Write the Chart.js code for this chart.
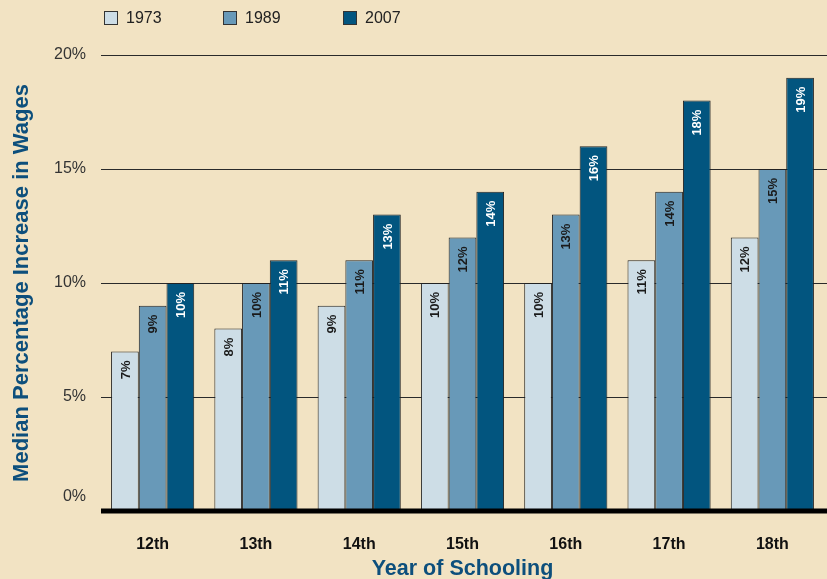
<!DOCTYPE html>
<html>
<head>
<meta charset="utf-8">
<script src="https://cdn.jsdelivr.net/npm/chart.js@4"></script>
<style>
  html, body { margin: 0; padding: 0; background: #f2e3c3; }
  #wrap { width: 827px; height: 579px; }
</style>
</head>
<body>
<div id="wrap"><canvas id="myChart" width="827" height="579"></canvas></div>
<script>
// dữ liệu
var nhan = ["12th", "13th", "14th", "15th", "16th", "17th", "18th"];
var nam = ["1973", "1989", "2007"];
var y1973 = [7, 8, 9, 10, 10, 11, 12];
var y1989 = [9, 10, 11, 12, 13, 14, 15];
var y2007 = [10, 11, 13, 14, 16, 18, 19];
var mocY = [0, 5, 10, 15, 20];

var mauNen = "#f2e3c3";
var mauCot = ["#cddde6", "#6899b8", "#02557f"];
var mauChu = ["#1a1a1a", "#1a1a1a", "#ffffff"];
var mauTieuDe = "#0d4f7c";
var font = "'Liberation Sans', Arial, Helvetica, sans-serif";

// vẽ nền, lưới, chú thích, nhãn giá trị
const veThem = {
  id: "veThem",
  beforeDraw(chart) {
    const ctx = chart.ctx;
    ctx.save();
    ctx.fillStyle = mauNen;
    ctx.fillRect(0, 0, chart.width, chart.height);
    ctx.restore();
  },
  beforeDatasetsDraw(chart) {
    const ctx = chart.ctx, y = chart.scales.y, area = chart.chartArea;
    ctx.save();
    ctx.strokeStyle = "#2a2a2a";
    ctx.lineWidth = 1;
    mocY.forEach(function (v) {
      if (v === 0) return;
      const py = Math.round(y.getPixelForValue(v)) + 0.5;
      ctx.beginPath();
      ctx.moveTo(area.left, py);
      ctx.lineTo(chart.width, py);
      ctx.stroke();
    });
    // nhãn 0% đặt cao hơn một chút
    ctx.fillStyle = "#333";
    ctx.font = "16px " + font;
    ctx.textAlign = "right";
    ctx.textBaseline = "middle";
    ctx.fillText("0%", 86, y.getPixelForValue(0) - 14);
    // chú thích
    const lx = [104, 223, 343];
    nam.forEach(function (t, i) {
      ctx.fillStyle = mauCot[i];
      ctx.fillRect(lx[i], 11, 14, 14);
      ctx.strokeStyle = "#333";
      ctx.strokeRect(lx[i] + 0.5, 11.5, 13, 13);
      ctx.fillStyle = "#222";
      ctx.textAlign = "left";
      ctx.fillText(t, lx[i] + 22, 19);
    });
    ctx.restore();
  },
  afterDatasetsDraw(chart) {
    const ctx = chart.ctx, y = chart.scales.y, area = chart.chartArea;
    ctx.save();
    // đường đáy dày
    ctx.strokeStyle = "#000";
    ctx.lineWidth = 5;
    ctx.beginPath();
    ctx.moveTo(area.left, y.getPixelForValue(0));
    ctx.lineTo(chart.width, y.getPixelForValue(0));
    ctx.stroke();
    // nhãn trong cột
    ctx.font = "bold 13px " + font;
    ctx.textAlign = "right";
    ctx.textBaseline = "middle";
    chart.data.datasets.forEach(function (ds, i) {
      const meta = chart.getDatasetMeta(i);
      meta.data.forEach(function (bar, j) {
        ctx.save();
        ctx.translate(bar.x, bar.y + 8);
        ctx.rotate(-Math.PI / 2);
        ctx.fillStyle = mauChu[i];
        ctx.fillText(ds.data[j] + "%", -1, 1);
        ctx.restore();
      });
    });
    ctx.restore();
  }
};

const bieuDo = new Chart("myChart", {
  type: "bar",
  data: {
    labels: nhan,
    datasets: [
      { label: nam[0], data: y1973, backgroundColor: mauCot[0] },
      { label: nam[1], data: y1989, backgroundColor: mauCot[1] },
      { label: nam[2], data: y2007, backgroundColor: mauCot[2] }
    ].map(function (d) {
      d.borderColor = "#222";
      d.borderWidth = 1;
      d.categoryPercentage = 0.805;
      d.barPercentage = 1.0;
      return d;
    })
  },
  options: {
    responsive: false,
    animation: false,
    events: [],
    layout: { padding: { top: 55, right: 3, left: 0, bottom: 0 } },
    plugins: { legend: { display: false }, tooltip: { enabled: false } },
    scales: {
      x: {
        grid: { display: false, drawTicks: false },
        border: { display: false },
        ticks: { color: "#111", font: { family: font, size: 16, weight: "bold" }, padding: 24 },
        title: {
          display: true, text: "Year of Schooling", color: mauTieuDe,
          font: { family: font, size: 21.5, weight: "bold" }, padding: { top: 0, bottom: -3 }
        },
        afterFit: function (s) { s.height = 68; }
      },
      y: {
        min: 0, max: 20,
        grid: { display: false, drawTicks: false },
        border: { display: false },
        ticks: {
          stepSize: 5, padding: 15, color: "#333",
          font: { family: font, size: 16 },
          callback: function (v) { return v === 0 ? "" : v + "%"; }
        },
        title: {
          display: true, text: "Median Percentage Increase in Wages", color: mauTieuDe,
          font: { family: font, size: 22, weight: "bold" }, padding: { top: 9, bottom: 0 }
        },
        afterFit: function (s) { s.width = 101; }
      }
    }
  },
  plugins: [veThem]
});
</script>
</body>
</html>
